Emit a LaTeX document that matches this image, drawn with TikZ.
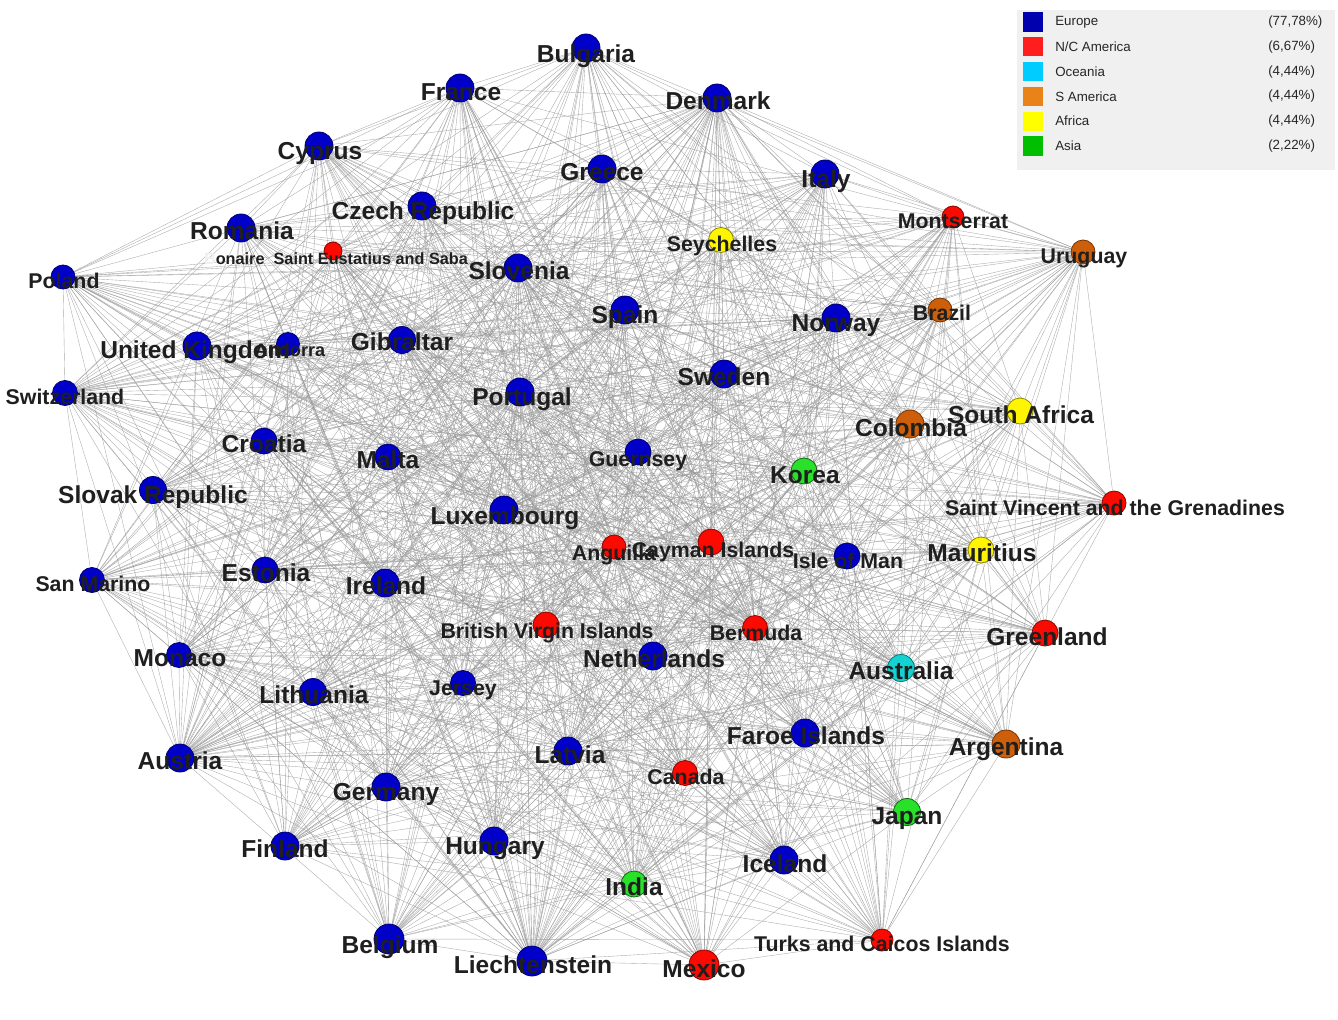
\documentclass[tikz,border=0pt]{standalone}
\usepackage{fontspec}
\setmainfont{Liberation Sans}
\pgfdeclarelayer{bg}
\pgfsetlayers{bg,main}

\definecolor{euBlue}{RGB}{0,0,200}
\definecolor{naRed}{RGB}{250,10,0}
\definecolor{ocCyan}{RGB}{20,210,210}
\definecolor{saOrange}{RGB}{205,95,10}
\definecolor{afYellow}{RGB}{255,245,0}
\definecolor{asGreen}{RGB}{40,225,40}
\definecolor{edgeGray}{RGB}{150,150,150}
\definecolor{keyBlue}{RGB}{0,0,175}
\definecolor{keyRed}{RGB}{255,30,30}
\definecolor{keyCyan}{RGB}{0,204,255}
\definecolor{keyOrange}{RGB}{232,130,25}
\definecolor{keyYellow}{RGB}{255,255,0}
\definecolor{keyGreen}{RGB}{0,190,0}

\tikzset{every picture/.style={line width=0.75pt}}
\tikzset{
  eu/.style={circle,fill=euBlue,draw=euBlue!55!black,line width=0.6pt,inner sep=0pt},
  na/.style={circle,fill=naRed,draw=naRed!55!black,line width=0.6pt,inner sep=0pt},
  oc/.style={circle,fill=ocCyan,draw=ocCyan!55!black,line width=0.6pt,inner sep=0pt},
  sa/.style={circle,fill=saOrange,draw=saOrange!55!black,line width=0.6pt,inner sep=0pt},
  af/.style={circle,fill=afYellow,draw=afYellow!55!black,line width=0.6pt,inner sep=0pt},
  as/.style={circle,fill=asGreen,draw=asGreen!45!black,line width=0.6pt,inner sep=0pt},
  lab/.style={inner sep=0pt,text=black!88,text height=0.72em,text depth=0pt,yshift=-3.2pt},
  big/.style={lab,font=\fontsize{18.4}{20}\selectfont\bfseries},
  mid/.style={lab,font=\fontsize{16}{18}\selectfont\bfseries},
  sml/.style={lab,font=\fontsize{13.6}{15}\selectfont\bfseries},
  tny/.style={lab,font=\fontsize{12.2}{14}\selectfont\bfseries},
  link/.style={draw=edgeGray,line width=0.28pt,draw opacity=0.8},
  keybox/.style={minimum size=14.5pt,inner sep=0pt},
  keytext/.style={anchor=west,inner sep=0pt,font=\fontsize{10}{12}\selectfont,text=black!85},
}

% name/x/y/group/size/label/labelstyle/lx/ly
\def\countries{%
bul/586/48/eu/28/Bulgaria/big/586/53,
fra/460/88/eu/28/France/big/461/91,
den/717/98/eu/28/Denmark/big/718/100,
cyp/319/146/eu/28/Cyprus/big/320/150,
gre/602/169/eu/28/Greece/big/602/171,
ita/825/174/eu/28/Italy/big/826/178,
cze/422/206/eu/28/Czech Republic/big/423/210,
rom/241/228/eu/28/Romania/big/242/230,
mnt/953/217/na/22/Montserrat/mid/953/219,
sey/721/240/af/25/Seychelles/mid/722/242,
uru/1083/252/sa/24/Uruguay/mid/1084/254,
bes/333/251/na/18/{\textcolor{black!6}{B}onaire\textcolor{black!6}{,} Saint Eustatius and Saba}/tny/336/255,
slv/518/268/eu/28/Slovenia/big/519/270,
pol/63/277/eu/24/Poland/mid/64/279,
spa/625/310/eu/28/Spain/big/625/314,
nor/836/318/eu/28/Norway/big/836/322,
bra/940/310/sa/24/Brazil/mid/942/311,
uki/197/346/eu/28/United Kingdom/big/195/349,
and/288/344/eu/23/Andorra/sml/290/347,
gib/402/340/eu/27/Gibraltar/big/402/341,
swi/65/393/eu/25/Switzerland/mid/65/395,
swe/724/374/eu/28/Sweden/big/724/376,
por/520/392/eu/28/Portugal/big/522/396,
saf/1020/411/af/26/South Africa/big/1021/414,
col/910/424/sa/28/Colombia/big/911/427,
cro/264/441/eu/26/Croatia/big/264/443,
mal/388/457/eu/26/Malta/big/388/459,
gue/638/452/eu/26/Guernsey/mid/638/457,
kor/804/471/as/26/Korea/big/805/474,
slk/153/490/eu/27/Slovak Republic/big/153/494,
lux/504/510/eu/28/Luxembourg/big/505/515,
svg/1114/503/na/24/Saint Vincent and the Grenadines/mid/1115/506,
ang/614/547/na/24/Anguilla/mid/614/551,
cay/711/542/na/26/Cayman Islands/mid/713/548,
iom/847/556/eu/26/Isle of Man/mid/848/559,
mau/981/550/af/26/Mauritius/big/982/552,
smr/92/580/eu/25/San Marino/mid/93/582,
est/265/570/eu/26/Estonia/big/266/572,
ire/385/583/eu/28/Ireland/big/386/585,
bvi/546/625/na/26/British Virgin Islands/mid/547/629,
ber/755/628/na/25/Bermuda/mid/756/631,
grl/1045/633/na/26/Greenland/big/1047/636,
mco/179/655/eu/25/Monaco/big/180/657,
ned/653/656/eu/28/Netherlands/big/654/658,
aus/901/668/oc/27/Australia/big/901/670,
lit/313/692/eu/27/Lithuania/big/314/694,
jer/463/683/eu/25/Jersey/mid/463/686,
far/805/733/eu/28/Faroe Islands/big/806/735,
arg/1006/744/sa/28/Argentina/big/1006/746,
lat/568/751/eu/28/Latvia/big/570/754,
aut/180/758/eu/28/Austria/big/180/760,
can/685/773/na/25/Canada/mid/686/775,
ger/386/787/eu/28/Germany/big/386/791,
jap/907/812/as/27/Japan/big/907/815,
fin/285/846/eu/28/Finland/big/285/848,
hun/494/841/eu/28/Hungary/big/495/845,
ice/784/860/eu/28/Iceland/big/785/863,
ind/634/884/as/26/India/big/634/886,
bel/389/939/eu/30/Belgium/big/390/944,
tci/882/940/na/22/Turks and Caicos Islands/mid/882/942,
lie/532/961/eu/30/Liechtenstein/big/533/964,
mex/704/965/na/30/Mexico/big/704/968}

\begin{document}
\begin{tikzpicture}[x=0.75pt,y=0.75pt,yscale=-1,xscale=1]
\useasboundingbox (0,0) rectangle (1338,1020);

% country nodes
\foreach \n/\x/\y/\g/\s/\t/\f/\lx/\ly in \countries
  \node[\g,minimum size=\s*0.75pt] (\n) at (\x,\y) {};

% links
\begin{pgfonlayer}{bg}
\foreach \n/\x/\y/\g/\s/\t/\f/\lx/\ly [count=\i] in \countries {
  \foreach \m/\xx/\yy/\gg/\ss/\tt/\ff/\llx/\lly [count=\j] in \countries {
    \ifnum\j>\i
      \pgfmathtruncatemacro\k{mod(7*\i+\j+3*\i*\j,10)}
      \ifnum\k<6 \draw[link] (\n) -- (\m); \fi
    \fi
  }
}
\end{pgfonlayer}

% labels
\foreach \n/\x/\y/\g/\s/\t/\f/\lx/\ly in \countries
  \node[\f] (\n-lab) at (\lx,\ly) {\t};

% legend
\node[fill=black!6,minimum width=318*0.75pt,minimum height=160*0.75pt,inner sep=0pt] (legend) at (1176,90) {};
\foreach \c/\t/\p [count=\r] in {keyBlue/Europe/77.78, keyRed/N\slash C America/6.67,
    keyCyan/Oceania/4.44, keyOrange/S America/4.44,
    keyYellow/Africa/4.44, keyGreen/Asia/2.22} {
  \node[keybox,fill=\c] (key\r) at (1033,{22+24.8*(\r-1)}) {};
  \node[keytext] (keyname\r) at (1055,{22+24.8*(\r-1)}) {\t};
}
\node[keytext] (keypct1) at (1268,22) {(77,78\%)};
\node[keytext] (keypct2) at (1268,46.8) {(6,67\%)};
\node[keytext] (keypct3) at (1268,71.6) {(4,44\%)};
\node[keytext] (keypct4) at (1268,96.4) {(4,44\%)};
\node[keytext] (keypct5) at (1268,121.2) {(4,44\%)};
\node[keytext] (keypct6) at (1268,146) {(2,22\%)};

\end{tikzpicture}
\end{document}
